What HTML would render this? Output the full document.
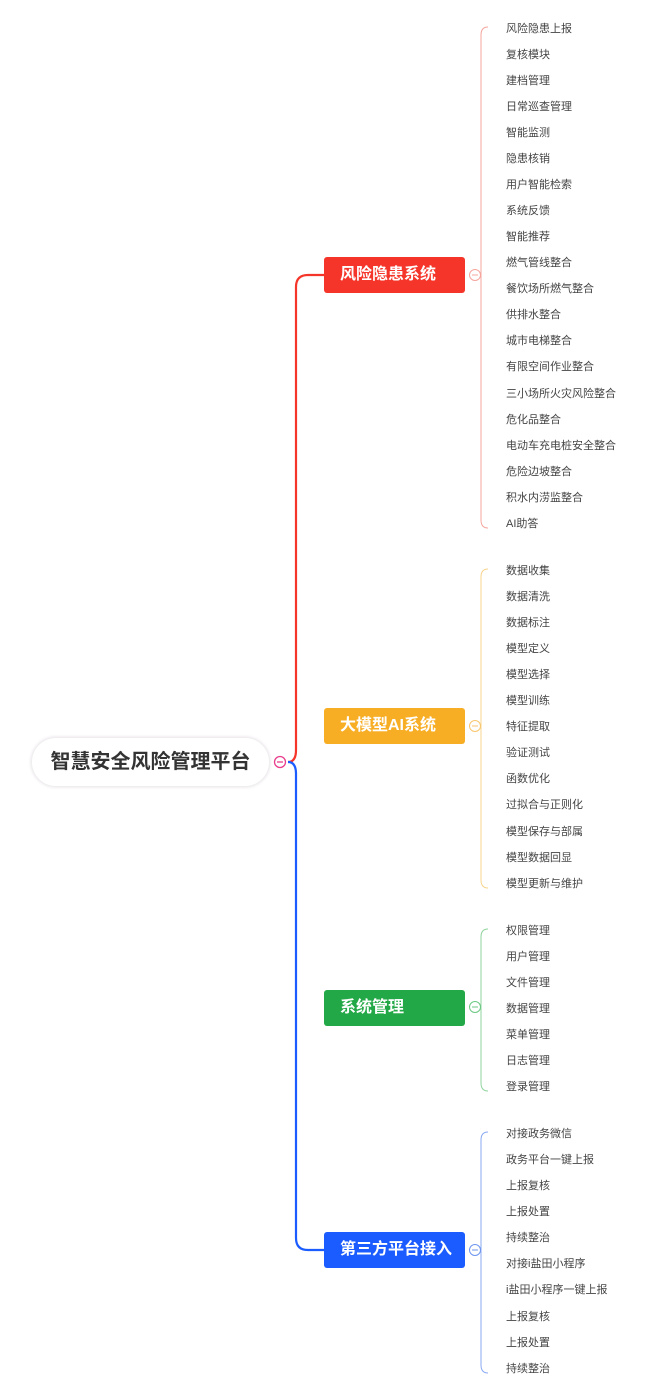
<!DOCTYPE html>
<html><head><meta charset="utf-8"><style>
body{margin:0;background:#fff;width:647px;height:1395px;position:relative;overflow:hidden;font-family:"Liberation Sans","Noto Sans CJK SC",sans-serif}
.n{position:absolute;left:324px;width:141px;height:36px;border-radius:3px;color:#fff;font-weight:bold;font-size:16px;line-height:36px;box-sizing:border-box;padding-left:16px}
.l{position:absolute;left:506px;font-size:11px;color:#444;line-height:16px;white-space:nowrap;margin-top:1px}
.root{position:absolute;left:31px;top:737px;width:239px;height:50px;border-radius:25px;border:1px solid #eee;box-shadow:0 0 3px #e6dde6;box-sizing:border-box;text-align:center;line-height:48px;font-size:20px;font-weight:bold;color:#333}
svg{position:absolute;left:0;top:0}
</style></head><body>
<svg width="647" height="1395" fill="none">
<path d="M288 762 Q296 762 296 750 L296 287 Q296 275 308 275 L324 275" stroke="#f5352a" stroke-width="2.2"/>
<path d="M288 762 Q296 762 296 774 L296 1238 Q296 1250 308 1250 L324 1250" stroke="#1a5cff" stroke-width="2.2"/>
<path d="M488 27 Q481 27 481 35 L481 520 Q481 528 488 528" stroke="#f5a59e" stroke-width="1"/>
<path d="M488 569 Q481 569 481 577 L481 880 Q481 888 488 888" stroke="#f8d48e" stroke-width="1"/>
<path d="M488 929 Q481 929 481 937 L481 1083 Q481 1091 488 1091" stroke="#8fd49f" stroke-width="1"/>
<path d="M488 1132 Q481 1132 481 1140 L481 1365 Q481 1373 488 1373" stroke="#8aa9f2" stroke-width="1"/>
<circle cx="280" cy="762" r="5.5" fill="#fff" stroke="#e83e8c" stroke-width="1.3"/><line x1="277" y1="762" x2="283" y2="762" stroke="#e83e8c" stroke-width="1.3"/>
<circle cx="475" cy="275" r="5.5" fill="#fff" stroke="#f5a59e"/><line x1="472" y1="275" x2="478" y2="275" stroke="#f5a59e"/>
<circle cx="475" cy="726" r="5.5" fill="#fff" stroke="#f8c66e"/><line x1="472" y1="726" x2="478" y2="726" stroke="#f8c66e"/>
<circle cx="475" cy="1007" r="5.5" fill="#fff" stroke="#6cc882"/><line x1="472" y1="1007" x2="478" y2="1007" stroke="#6cc882"/>
<circle cx="475" cy="1250" r="5.5" fill="#fff" stroke="#6d95f0"/><line x1="472" y1="1250" x2="478" y2="1250" stroke="#6d95f0"/>
</svg>
<div class="root">智慧安全风险管理平台</div>
<div class="n" style="top:257px;background:#f5352a">风险隐患系统</div>
<div class="n" style="top:708px;background:#f7ae25">大模型AI系统</div>
<div class="n" style="top:990px;background:#22a846">系统管理</div>
<div class="n" style="top:1232px;background:#1a5cff">第三方平台接入</div>
<div class="l" style="top:20px">风险隐患上报</div>
<div class="l" style="top:46px">复核模块</div>
<div class="l" style="top:72px">建档管理</div>
<div class="l" style="top:98px">日常巡查管理</div>
<div class="l" style="top:124px">智能监测</div>
<div class="l" style="top:150px">隐患核销</div>
<div class="l" style="top:176px">用户智能检索</div>
<div class="l" style="top:202px">系统反馈</div>
<div class="l" style="top:228px">智能推荐</div>
<div class="l" style="top:254px">燃气管线整合</div>
<div class="l" style="top:280px">餐饮场所燃气整合</div>
<div class="l" style="top:306px">供排水整合</div>
<div class="l" style="top:332px">城市电梯整合</div>
<div class="l" style="top:358px">有限空间作业整合</div>
<div class="l" style="top:385px">三小场所火灾风险整合</div>
<div class="l" style="top:411px">危化品整合</div>
<div class="l" style="top:437px">电动车充电桩安全整合</div>
<div class="l" style="top:463px">危险边坡整合</div>
<div class="l" style="top:489px">积水内涝监整合</div>
<div class="l" style="top:515px">AI助答</div>
<div class="l" style="top:562px">数据收集</div>
<div class="l" style="top:588px">数据清洗</div>
<div class="l" style="top:614px">数据标注</div>
<div class="l" style="top:640px">模型定义</div>
<div class="l" style="top:666px">模型选择</div>
<div class="l" style="top:692px">模型训练</div>
<div class="l" style="top:718px">特征提取</div>
<div class="l" style="top:744px">验证测试</div>
<div class="l" style="top:770px">函数优化</div>
<div class="l" style="top:796px">过拟合与正则化</div>
<div class="l" style="top:823px">模型保存与部属</div>
<div class="l" style="top:849px">模型数据回显</div>
<div class="l" style="top:875px">模型更新与维护</div>
<div class="l" style="top:922px">权限管理</div>
<div class="l" style="top:948px">用户管理</div>
<div class="l" style="top:974px">文件管理</div>
<div class="l" style="top:1000px">数据管理</div>
<div class="l" style="top:1026px">菜单管理</div>
<div class="l" style="top:1052px">日志管理</div>
<div class="l" style="top:1078px">登录管理</div>
<div class="l" style="top:1125px">对接政务微信</div>
<div class="l" style="top:1151px">政务平台一键上报</div>
<div class="l" style="top:1177px">上报复核</div>
<div class="l" style="top:1203px">上报处置</div>
<div class="l" style="top:1229px">持续整治</div>
<div class="l" style="top:1255px">对接i盐田小程序</div>
<div class="l" style="top:1281px">i盐田小程序一键上报</div>
<div class="l" style="top:1308px">上报复核</div>
<div class="l" style="top:1334px">上报处置</div>
<div class="l" style="top:1360px">持续整治</div>
</body></html>
